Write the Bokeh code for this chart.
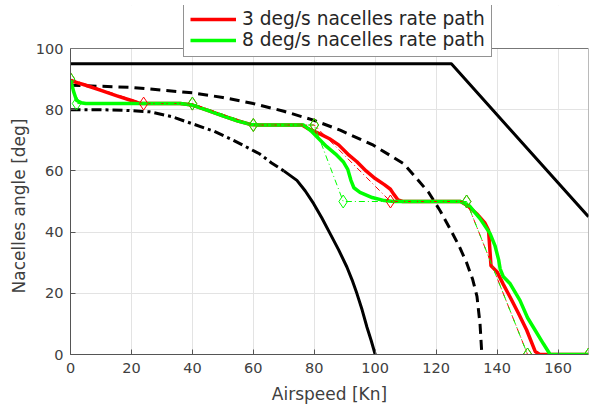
from bokeh.plotting import figure
from bokeh.models import Range1d, Legend, LegendItem, FixedTicker, BoxAnnotation, Span, Title
from bokeh.embed import file_html
from bokeh.resources import INLINE

# ---- data ----
x_ticks = [0, 20, 40, 60, 80, 100, 120, 140, 160]
y_ticks = [0, 20, 40, 60, 80, 100]
x_max = 170
y_max = 100

upper_x = [0, 125, 170]
upper_y = [95, 95, 45]

dash_x = [0, 20, 40, 50, 60, 70, 80, 88.5, 99.4, 105, 109.3, 113.7, 117.5, 121.3, 124.6, 127.5, 130, 132, 133.4, 134.4, 135]
dash_y = [88, 87.3, 85.5, 84, 82, 79.5, 76.5, 73.3, 68.4, 65, 62.4, 57.4, 53, 47, 41, 35.5, 30, 24.5, 19, 10, 0]

dashdot_x = [0, 10, 18, 26, 33, 40, 47, 53.5, 62, 66, 70]
dashdot_y = [80, 80, 79.8, 79.3, 77.8, 75.4, 73, 70, 65.6, 62.6, 60]

lower_x = [70, 74.3, 77, 79.8, 82.5, 85.2, 88, 90.7, 92.4, 94, 95.7, 97.3, 98.7, 100]
lower_y = [60, 56.9, 53.5, 49.3, 44.6, 39.5, 34.2, 28.6, 24.4, 19.9, 14.6, 8.9, 4.5, 0]

red_wp_x = [0, 24, 40, 60, 80, 105, 130, 150, 170]
red_wp_y = [90, 82, 82, 75, 75, 50, 50, 0, 0]

green_wp_x = [0, 2, 40, 60, 80, 89.5, 130, 150, 170]
green_wp_y = [90, 82, 82, 75, 75, 50, 50, 0, 0]

red_x = [0, 5, 10, 15, 20, 23, 30, 36, 40, 45, 50, 55, 59, 62, 70, 76, 78, 82, 85, 88, 91, 94, 97, 100, 103, 105,
         106, 107.5, 109, 128, 130.5, 133.3, 136, 137.2, 138, 140, 142, 144.3, 147, 149.7, 152.5, 154, 170]
red_y = [89.5, 88, 86.3, 84.6, 83, 82, 82, 82, 81.5, 79.8, 78, 76.3, 75.2, 75, 75, 75, 73.8, 72, 70.5, 68.5, 65.5, 63,
         60, 57.5, 55.5, 54, 52.5, 50.5, 50, 50, 48.5, 46, 43, 40.6, 29, 27, 23, 18.7, 13.5, 8, 1, 0, 0]

green_x = [0, 1, 2, 3.5, 5, 10, 20, 36, 40, 45, 50, 55, 59, 62, 70, 76.5, 79, 81, 84, 87, 89.5, 91, 92, 93, 95, 99,
           103, 106, 128, 131, 134.4, 137.7, 139.3, 140.5, 141, 142, 144.3, 147.5, 150, 151.9, 155.2, 157.4, 170]
green_y = [90, 86, 83, 82.3, 82, 82, 82, 82, 81.5, 79.8, 78, 76.3, 75.2, 75, 75, 75, 73, 71, 68, 65.5, 63, 60.5, 57,
           54.5, 53, 51.3, 50.3, 50, 50, 48.5, 44.4, 39.5, 35.6, 31, 28, 25.5, 23.1, 17.7, 12, 8.9, 3.5, 0, 0]

labels = ["3 deg/s nacelles rate path", "8 deg/s nacelles rate path"]
x_label = "Airspeed [Kn]"
y_label = "Nacelles angle [deg]"

FONT = "DejaVu Sans"

# frame: 306 px for 100 units; extend upward to hold the legend (frame top at 5 px)
frame_h = 407 - 5 - 53
y_top = y_max * frame_h / 306.0

p = figure(width=589, height=407, output_backend="svg", toolbar_location=None,
           x_range=Range1d(0, x_max), y_range=Range1d(0, y_top),
           min_border_left=70, min_border_right=1, min_border_top=5, min_border_bottom=53,
           background_fill_color="white", border_fill_color="white")

p.xaxis.ticker = FixedTicker(ticks=x_ticks)
p.yaxis.ticker = FixedTicker(ticks=y_ticks)
p.xgrid.ticker = FixedTicker(ticks=x_ticks)
p.ygrid.ticker = FixedTicker(ticks=y_ticks)
p.grid.grid_line_color = "#e3e3e3"
p.grid.grid_line_width = 1
p.outline_line_color = None
p.yaxis.bounds = (0, y_max)

# mask the region above the axes box
p.add_layout(BoxAnnotation(bottom=y_max, fill_color="white", fill_alpha=1,
                           line_color=None, level="underlay"))
p.add_layout(Span(location=y_max, dimension="width", line_color="#777777", line_width=1))

for ax in (p.xaxis[0], p.yaxis[0]):
    ax.axis_line_color = "#555555"
    ax.major_tick_line_color = "#555555"
    ax.major_tick_in = 5
    ax.major_tick_out = 0
    ax.minor_tick_line_color = None
    ax.major_label_text_font = FONT
    ax.major_label_text_font_size = "14.5px"
    ax.major_label_text_color = "#404040"
    ax.axis_label_text_font = FONT
    ax.axis_label_text_font_size = "17px"
    ax.axis_label_text_font_style = "normal"
    ax.axis_label_text_color = "#404040"

p.xaxis.axis_label = x_label
p.xaxis.major_label_standoff = 8
p.xaxis.axis_label_standoff = 8
p.yaxis.major_label_standoff = 7

# y label as a side title so it is centred on the 0-100 box, not the extended frame
ytitle = Title(text=y_label, align="left", offset=61, standoff=8,
               text_font=FONT, text_font_size="17px", text_font_style="normal",
               text_color="#404040")
p.add_layout(ytitle, "left")

# right side of the box
p.line([x_max, x_max], [0, y_max], line_color="#777777", line_width=1)

# black envelope lines
p.line(upper_x, upper_y, line_color="black", line_width=3)
p.line(dash_x, dash_y, line_color="black", line_width=3, line_dash="10 6")
p.line(dashdot_x, dashdot_y, line_color="black", line_width=3, line_dash="10 4 3 4")
p.line(lower_x, lower_y, line_color="black", line_width=3)

# paths
r_red = p.line(red_x, red_y, line_color="#ff0000", line_width=3.5)
r_green = p.line(green_x, green_y, line_color="#00ff00", line_width=3.5)

# waypoints
p.line(red_wp_x, red_wp_y, line_color="#ff0000", line_width=1, line_dash="6 3 1 3")
p.scatter(red_wp_x, red_wp_y, marker="diamond", size=13, fill_color=None,
          line_color="#ff0000", line_width=1)
p.line(green_wp_x, green_wp_y, line_color="#00ff00", line_width=1, line_dash="6 3 1 3")
p.scatter(green_wp_x, green_wp_y, marker="diamond", size=13, fill_color=None,
          line_color="#00ff00", line_width=1)

legend = Legend(items=[LegendItem(label=labels[0], renderers=[r_red]),
                       LegendItem(label=labels[1], renderers=[r_green])],
                location=(113, 297))
legend.label_text_font = FONT
legend.label_text_font_size = "18.6px"
legend.label_text_color = "#262626"
legend.glyph_width = 46
legend.glyph_height = 20
legend.label_height = 20
legend.label_standoff = 6
legend.padding = 6
legend.spacing = 0
legend.margin = 0
legend.border_line_color = "#262626"
legend.border_line_width = 1
legend.background_fill_color = "white"
legend.background_fill_alpha = 1
p.add_layout(legend)

open("out.html", "w").write(file_html(p, INLINE))
